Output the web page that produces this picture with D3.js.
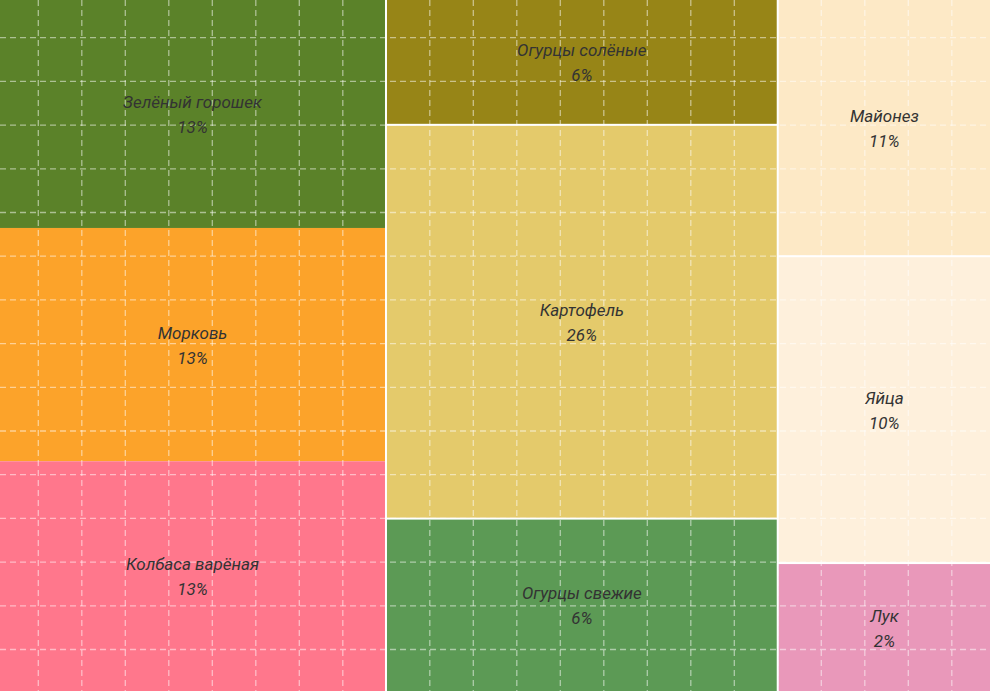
<!DOCTYPE html>
<html><head><meta charset="utf-8">
<script src="https://cdn.jsdelivr.net/npm/d3@7"></script>
<style>html,body{margin:0;padding:0;background:#fff;} svg{display:block;}</style>
</head><body><svg id="chart" width="990" height="691"></svg>
<script>
// Data
const categories = ["Зелёный горошек", "Морковь", "Колбаса варёная", "Огурцы солёные", "Картофель", "Огурцы свежие", "Майонез", "Яйца", "Лук"];
const shares = [13, 13, 13, 6, 26, 6, 11, 10, 2];            // label percentages
const areaWeights = [12.87, 13.17, 12.97, 7.17, 22.44, 9.88, 7.98, 9.52, 4.00]; // tile areas
const columnOf = [0, 0, 0, 1, 1, 1, 2, 2, 2];
const colors = ["#5b8229", "#fca32a", "#ff778c", "#978517", "#e4ca6b", "#5c9a55", "#fde9c6", "#fef0dc", "#e998ba"];

const W = 990, H = 691;
const svg = d3.select("#chart");

const tree = {
  name: "root",
  children: d3.range(3).map(c => ({
    name: "col" + c, col: c,
    children: categories.map((name, i) => ({ name, i, weight: areaWeights[i] })).filter(d => columnOf[d.i] === c)
  }))
};

const root = d3.hierarchy(tree).sum(d => d.weight || 0);
d3.treemap()
  .size([W, H])
  .tile(d3.treemapSliceDice)
  .paddingInner(d => d.depth === 0 ? 2 : (d.data.col === 0 ? 0 : 2))
  (root);

const leaves = root.leaves();

svg.append("g").selectAll("rect").data(leaves).join("rect")
  .attr("x", d => d.x0).attr("y", d => d.y0)
  .attr("width", d => d.x1 - d.x0).attr("height", d => d.y1 - d.y0)
  .attr("fill", d => colors[d.data.i]);

// dashed grid overlay
const stepX = 43.5, offX = 38.3, stepY = 43.7, offY = 37.7;
const grid = svg.append("g").attr("stroke", "rgba(255,255,255,0.5)").attr("stroke-width", 1.3).attr("stroke-dasharray", "6,4");
grid.selectAll("line.v").data(d3.range(offX, W, stepX)).join("line").attr("class", "v")
  .attr("x1", d => d).attr("x2", d => d).attr("y1", 0).attr("y2", H);
grid.selectAll("line.h").data(d3.range(offY, H, stepY)).join("line").attr("class", "h")
  .attr("y1", d => d).attr("y2", d => d).attr("x1", 0).attr("x2", W);

const labels = svg.append("g")
  .attr("font-family", "Roboto, 'Open Sans', sans-serif")
  .attr("font-style", "italic")
  .attr("font-size", 17)
  .attr("fill", "#333")
  .attr("text-anchor", "middle");

labels.selectAll("text").data(leaves).join("text")
  .each(function(d) {
    const cx = (d.x0 + d.x1) / 2, cy = (d.y0 + d.y1) / 2;
    const t = d3.select(this);
    t.append("tspan").attr("x", cx).attr("y", cy - 6).text(categories[d.data.i]);
    t.append("tspan").attr("x", cx).attr("y", cy + 19).text(shares[d.data.i] + "%");
  });
</script>
</body></html>
